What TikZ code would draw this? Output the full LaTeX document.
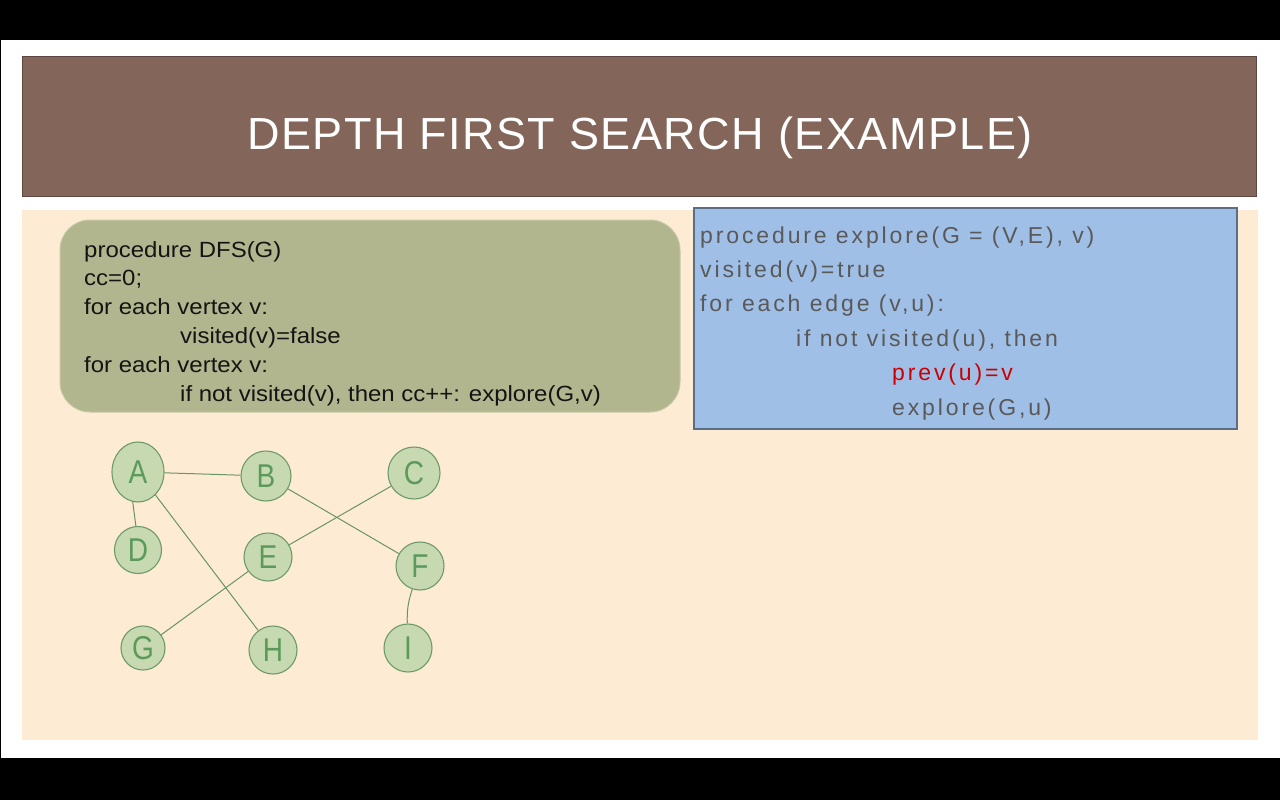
\documentclass[tikz,border=0pt]{standalone}
\usepackage{fontspec}
\setmainfont{Liberation Sans}
\newfontfamily\titlefont[LetterSpace=3.3]{Liberation Sans}
\newfontfamily\dfsfont[FakeStretch=1.09]{Liberation Sans}
\newfontfamily\explorefont[LetterSpace=12.5]{Liberation Sans}
\newfontfamily\vertexfont[FakeStretch=0.85]{Liberation Sans}
\usetikzlibrary{shapes.geometric}

\definecolor{framebg}{HTML}{000000}
\definecolor{slidebg}{HTML}{FFFFFF}
\definecolor{titlebar}{HTML}{836659}
\definecolor{titleline}{HTML}{5E4640}
\definecolor{peach}{HTML}{FDEBD4}
\definecolor{olivebox}{HTML}{B2B68E}
\definecolor{oliveline}{HTML}{C6C9A6}
\definecolor{bluebox}{HTML}{A0BFE6}
\definecolor{blueline}{HTML}{5B6F84}
\definecolor{codegray}{HTML}{595959}
\definecolor{codered}{HTML}{CC0000}
\definecolor{vfill}{HTML}{C7D9B1}
\definecolor{vline}{HTML}{6E9A6A}
\definecolor{vtext}{HTML}{5C9A5C}
\definecolor{eline}{HTML}{6A9466}

\tikzset{
  vertex/.style={circle, draw=vline, fill=vfill, line width=1.1pt, inner sep=0pt,
    text=vtext, font=\vertexfont\fontsize{33}{33}\selectfont},
  edge/.style={draw=eline, line width=1pt},
}

\begin{document}
\begin{tikzpicture}[x=1pt,y=-1pt]
  \useasboundingbox (0,0) rectangle (1280,800);
  % frame and slide
  \fill[framebg] (0,0) rectangle (1280,800);
  \fill[slidebg] (1,40) rectangle (1280,758);
  % title bar
  \filldraw[fill=titlebar, draw=titleline, line width=0.8pt] (22,56) rectangle (1256,196);
  \node[text=white, font=\titlefont\fontsize{45}{45}\selectfont] (title) at (640,138) {DEPTH FIRST SEARCH (EXAMPLE)};
  % content area
  \fill[peach] (22,210) rectangle (1258,740);

  % DFS procedure box (node anchored at the baseline of its last line)
  \filldraw[fill=olivebox, draw=oliveline, line width=1pt, rounded corners=30pt] (60,220) rectangle (680,412);
  \node[anchor=base west, align=left, inner sep=0pt, text=black!92,
        font=\dfsfont\fontsize{22}{28.8}\selectfont] (dfs) at (84,401)
  {procedure DFS(G)\\
   cc=0;\\
   for each vertex v:\\
   \hspace*{96pt}visited(v)=false\\
   for each vertex v:\\
   \hspace*{96pt}if not visited(v), then cc++: explore(G,v)};

  % explore procedure box
  \filldraw[fill=bluebox, draw=blueline, line width=1.2pt] (694,208) rectangle (1237,429);
  \node[anchor=base west, align=left, inner sep=0pt, text=codegray,
        font=\explorefont\fontsize{23}{34.4}\selectfont] (explore) at (700,415)
  {procedure explore(G = (V,E), v)\\
   visited(v)=true\\
   for each edge (v,u):\\
   \hspace*{96pt}if not visited(u), then\\
   \hspace*{192pt}\textcolor{codered}{prev(u)=v}\\
   \hspace*{192pt}explore(G,u)};

  % graph vertices
  \node[vertex, ellipse, minimum width=52pt, minimum height=60pt] (A) at (138,472) {A};
  \node[vertex, minimum size=50pt] (B) at (266,476) {B};
  \node[vertex, minimum size=52pt] (C) at (414,473) {C};
  \node[vertex, minimum size=47pt] (D) at (138,550) {D};
  \node[vertex, minimum size=48pt] (E) at (268,557) {E};
  \node[vertex, minimum size=48pt] (F) at (420,566) {F};
  \node[vertex, minimum size=44pt] (G) at (143,648) {G};
  \node[vertex, minimum size=48pt] (H) at (273,650) {H};
  \node[vertex, minimum size=48pt] (I) at (408,648) {I};

  % graph edges
  \path[edge] (A) -- (B);
  \path[edge] (A.-100) -- (D.95);
  \path[edge] (A) -- (H);
  \path[edge] (B) -- (F);
  \path[edge] (C) -- (E);
  \path[edge] (E) -- (G);
  \path[edge] (F) to[bend right=10] (I);
\end{tikzpicture}
\end{document}
